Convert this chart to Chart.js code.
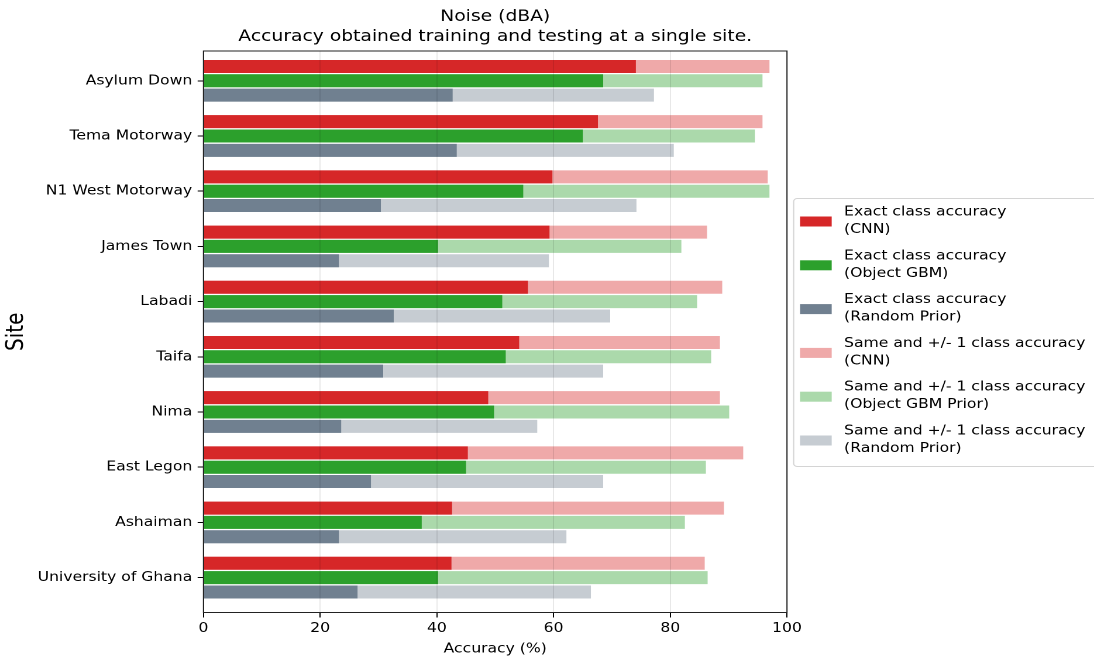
<!DOCTYPE html>
<html>
<head>
<meta charset="utf-8">
<title>Noise (dBA) – accuracy per site</title>
<script src="https://cdn.jsdelivr.net/npm/chart.js@4.4.1/dist/chart.umd.min.js"></script>
<style>
  html, body { margin: 0; padding: 0; background: #fff; overflow: hidden; }
  /* the figure is laid out at 935px and widened to the full 1094px */
  #wrap {
    position: absolute; left: 0; top: 0;
    width: 935px; height: 660px;
    transform: scale(1.170053, 1);
    transform-origin: 0 0;
  }
</style>
</head>
<body>
<div id="wrap"><canvas id="chart"></canvas></div>
<script>
// Sites, top to bottom
const sites = [
  'Asylum Down', 'Tema Motorway', 'N1 West Motorway', 'James Town', 'Labadi',
  'Taifa', 'Nima', 'East Legon', 'Ashaiman', 'University of Ghana'
];

// Exact class accuracy (%)
const exactCnn = [74.1, 67.6, 59.8, 59.3, 55.6, 54.1, 48.8, 45.3, 42.6, 42.5];
const exactGbm = [68.5, 65.0, 54.8, 40.2, 51.2, 51.8, 49.8, 45.0, 37.4, 40.2];
const exactRandom = [42.7, 43.4, 30.4, 23.2, 32.6, 30.8, 23.6, 28.7, 23.2, 26.4];

// Same and +/- 1 class accuracy (%)
const nearCnn = [97.0, 95.8, 96.7, 86.3, 88.9, 88.5, 88.5, 92.5, 89.2, 85.9];
const nearGbm = [95.8, 94.5, 97.0, 81.9, 84.6, 87.0, 90.1, 86.1, 82.5, 86.4];
const nearRandom = [77.2, 80.6, 74.2, 59.2, 69.7, 68.5, 57.2, 68.5, 62.2, 66.4];

// Legend text, two lines per series
const seriesLabels = [
  ['Exact class accuracy', '(CNN)'],
  ['Exact class accuracy', '(Object GBM)'],
  ['Exact class accuracy', '(Random Prior)'],
  ['Same and +/- 1 class accuracy', '(CNN)'],
  ['Same and +/- 1 class accuracy', '(Object GBM Prior)'],
  ['Same and +/- 1 class accuracy', '(Random Prior)']
];

const titleLines = ['Noise (dBA)', 'Accuracy obtained training and testing at a single site.'];

const FONT = "'DejaVu Sans', 'Liberation Sans', sans-serif";
Chart.defaults.font.family = FONT;
Chart.defaults.color = '#000';

// One bar per model and site; the wide (light) bar sits behind the exact (dark) one
function series(values, label, color, stack, order) {
  return {
    label: label,
    data: values.map((v, i) => ({ x: v, y: i })),
    backgroundColor: color,
    borderWidth: 0,
    stack: stack,
    order: order,
    categoryPercentage: 0.779,
    barPercentage: 0.907
  };
}

const datasets = [
  series(exactCnn, seriesLabels[0], '#d62728', 'cnn', 0),
  series(exactGbm, seriesLabels[1], '#2ca02c', 'gbm', 0),
  series(exactRandom, seriesLabels[2], '#708090', 'rp', 0),
  series(nearCnn, seriesLabels[3], '#efa9a9', 'cnn', 1),
  series(nearGbm, seriesLabels[4], '#abd9ab', 'gbm', 1),
  series(nearRandom, seriesLabels[5], '#c6ccd2', 'rp', 1)
];

// Box around the plotting area
const framePlugin = {
  id: 'frame',
  afterDraw(chart) {
    const { ctx, chartArea: a } = chart;
    ctx.save();
    ctx.strokeStyle = '#222';
    ctx.lineWidth = 1;
    ctx.strokeRect(a.left, a.top, a.right - a.left, a.bottom - a.top);
    ctx.restore();
  }
};

// Legend to the right of the plot, two text lines per entry
const sideLegend = {
  id: 'sideLegend',
  afterDraw(chart) {
    const { ctx, chartArea: a } = chart;
    const x0 = a.right + 5.2, y0 = 198, x1 = chart.width + 2, y1 = 466;
    ctx.save();
    ctx.beginPath();
    ctx.roundRect(x0 + 0.5, y0 + 0.5, x1 - x0, y1 - y0, 3);
    ctx.fillStyle = '#fff';
    ctx.fill();
    ctx.strokeStyle = '#d4d4d4';
    ctx.lineWidth = 1;
    ctx.stroke();
    ctx.font = '13.33px ' + FONT;
    ctx.textBaseline = 'middle';
    ctx.textAlign = 'left';
    chart.data.datasets.forEach((ds, i) => {
      const yLine = 212 + 43.8 * i;
      ctx.fillStyle = ds.backgroundColor;
      ctx.fillRect(x0 + 6, yLine + 4.5, 27, 10);
      ctx.fillStyle = '#000';
      ds.label.forEach((line, k) => ctx.fillText(line, x0 + 43.6, yLine + 17.5 * k));
    });
    ctx.restore();
  }
};

new Chart(document.getElementById('chart'), {
  type: 'bar',
  data: { datasets: datasets },
  options: {
    indexAxis: 'y',
    responsive: true,
    maintainAspectRatio: false,
    animation: false,
    devicePixelRatio: 2,
    layout: { padding: { left: 0, right: 262.4, top: 0, bottom: 0 } },
    plugins: {
      legend: { display: false },
      tooltip: { enabled: false },
      title: {
        display: true,
        fullSize: false,
        text: titleLines,
        color: '#000',
        font: { size: 16, weight: 'normal', lineHeight: 1.25 },
        padding: { top: 7, bottom: 4 }
      }
    },
    scales: {
      x: {
        type: 'linear',
        min: 0,
        max: 100,
        stacked: false,
        ticks: { stepSize: 20, padding: 3, color: '#000', font: { size: 13.33 } },
        grid: {
          z: 1,
          color: 'rgba(0,0,0,0.09)',
          lineWidth: 1,
          drawTicks: true,
          tickLength: 5,
          tickColor: '#000'
        },
        border: { display: true, color: '#222', width: 1 },
        title: {
          display: true,
          text: 'Accuracy (%)',
          color: '#000',
          font: { size: 13.33 },
          padding: { top: 0, bottom: 3 }
        },
        afterFit(scale) { scale.height = 47.5; }
      },
      y: {
        type: 'linear',
        reverse: true,
        min: -0.54,
        max: 9.632,
        bounds: 'data',
        offset: false,
        // one tick per site, at the middle of its bar group
        afterBuildTicks(scale) { scale.ticks = sites.map((s, i) => ({ value: i })); },
        ticks: {
          autoSkip: false,
          padding: 4.6,
          color: '#000',
          font: { size: 13.33 },
          callback: (v) => (sites[v] !== undefined ? sites[v] : '')
        },
        grid: {
          offset: false,
          drawOnChartArea: false,
          drawTicks: true,
          tickLength: 5,
          tickColor: '#000'
        },
        border: { display: true, color: '#222', width: 1 },
        title: {
          display: true,
          text: 'Site',
          color: '#000',
          font: { size: 20 },
          padding: { top: 2.5, bottom: 0 }
        },
        afterFit(scale) { scale.width = 173.9; }
      }
    }
  },
  plugins: [framePlugin, sideLegend]
});
</script>
</body>
</html>
